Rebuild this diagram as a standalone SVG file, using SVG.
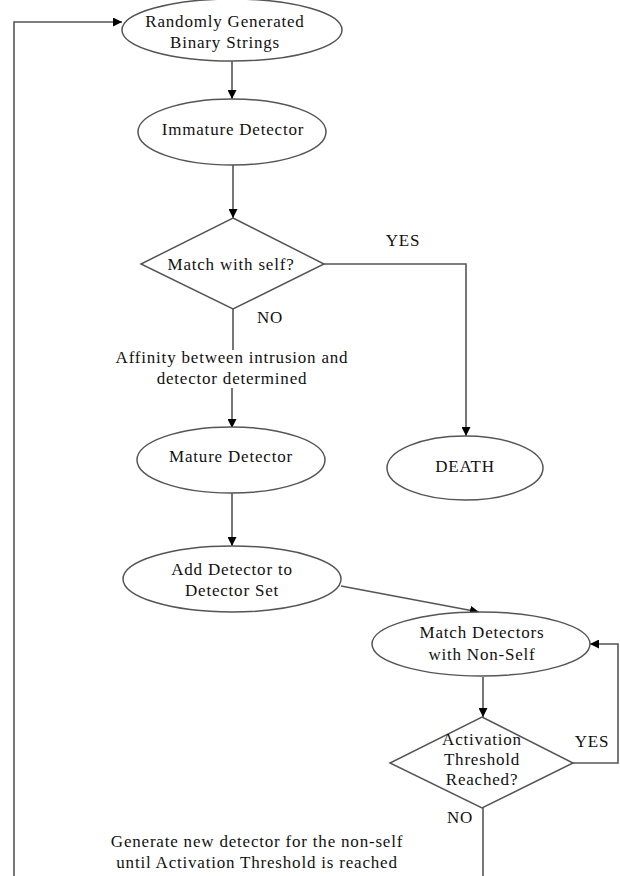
<svg xmlns="http://www.w3.org/2000/svg" width="620" height="876" viewBox="0 0 620 876">
<defs>
<marker id="ah" viewBox="0 0 10 10" refX="10" refY="5" markerWidth="9" markerHeight="9" markerUnits="userSpaceOnUse" orient="auto">
<path d="M0,0 L10,5 L0,10 z" fill="#000"/>
</marker>
<style>
.n{fill:#fff;stroke:#555;stroke-width:1.5}
.t{font-family:"Liberation Serif","Times New Roman",serif;font-size:17px;letter-spacing:0.8px;fill:#111;text-anchor:middle}
.c{fill:none;stroke:#555;stroke-width:1.6}
.a{marker-end:url(#ah)}
</style>
</defs>
<rect width="620" height="876" fill="#fff"/>
<g id="connectors">
<path class="c a" d="M14,876 L14,22 L122,22"/>
<path class="c a" d="M232,60 L232,99"/>
<path class="c a" d="M233,165 L233,218"/>
<path class="c a" d="M324,264 L466,264 L466,436"/>
<path class="c" d="M233,309 L233,350"/>
<path class="c a" d="M232,388 L232,428"/>
<path class="c a" d="M232,493 L232,546"/>
<path class="c a" d="M341,586 L479,612"/>
<path class="c a" d="M483,677 L483,717"/>
<path class="c a" d="M573,763 L618,763 L618,644 L590,644"/>
<path class="c" d="M483,808 L483,876"/>
<text class="t" x="403" y="246">YES</text>
<text class="t" x="270" y="323">NO</text>
<text class="t" x="592" y="747">YES</text>
<text class="t" x="460" y="823">NO</text>
</g>
<g id="n1"><ellipse class="n" cx="232" cy="30" rx="110" ry="31"/>
<text class="t" x="225" y="27">Randomly Generated</text><text class="t" x="225" y="48">Binary Strings</text></g>
<g id="n2"><ellipse class="n" cx="232" cy="132" rx="94" ry="33"/>
<text class="t" x="233" y="135">Immature Detector</text></g>
<g id="n3"><polygon class="n" points="233,218 324,264 233,309 141,264"/>
<text class="t" x="231" y="270">Match with self?</text></g>
<g id="n4"><text class="t" x="232" y="363">Affinity between intrusion and</text>
<text class="t" x="232" y="384">detector determined</text></g>
<g id="n5"><ellipse class="n" cx="231" cy="460" rx="94" ry="33"/>
<text class="t" x="231" y="462">Mature Detector</text></g>
<g id="n6"><ellipse class="n" cx="465" cy="468" rx="78" ry="32"/>
<text class="t" x="465" y="472">DEATH</text></g>
<g id="n7"><ellipse class="n" cx="232" cy="579" rx="109" ry="33"/>
<text class="t" x="232" y="575">Add Detector to</text><text class="t" x="232" y="596">Detector Set</text></g>
<g id="n8"><ellipse class="n" cx="481" cy="644" rx="109" ry="32"/>
<text class="t" x="482" y="638">Match Detectors</text><text class="t" x="482" y="660">with Non-Self</text></g>
<g id="n9"><polygon class="n" points="482,717 573,763 482,808 390,763"/>
<text class="t" x="482" y="745">Activation</text><text class="t" x="482" y="765">Threshold</text><text class="t" x="482" y="785">Reached?</text></g>
<g id="n10"><text class="t" x="257" y="847">Generate new detector for the non-self</text>
<text class="t" x="257" y="868">until Activation Threshold is reached</text></g>
</svg>
